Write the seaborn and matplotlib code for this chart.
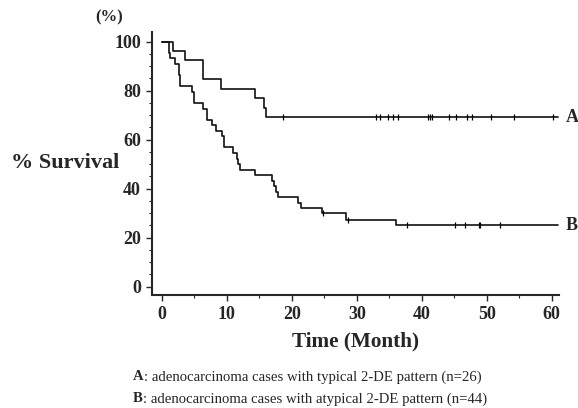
import numpy as np
import pandas as pd
import seaborn as sns
import matplotlib.pyplot as plt
from matplotlib.ticker import MultipleLocator

# step times (month) and survival levels (%)
time_a = [0, 1.75, 3.6, 6.3, 9.1, 14.3, 15.8, 16.1]
surv_a = [100, 96.2, 92.3, 84.6, 80.8, 76.9, 73.1, 69.2]
cens_a = [18.7, 32.9, 33.6, 34.8, 35.5, 36.4, 41.0, 41.2, 41.5,
          44.2, 45.2, 46.9, 47.7, 50.7, 54.2, 60.2]

time_b = [0, 1.1, 1.3, 2.0, 2.7, 2.8, 4.6, 4.9, 6.4, 6.9, 7.7, 8.4, 9.2, 9.6,
          10.9, 11.5, 11.8, 12.0, 14.4, 17.0, 17.2, 17.5, 17.9, 20.9, 21.4,
          24.6, 28.4, 36.1]
surv_b = [100, 95.5, 93.2, 90.9, 86.4, 81.8, 79.5, 75.0, 72.7, 68.2, 65.9,
          63.6, 61.4, 56.8, 54.5, 52.3, 50.0, 47.7, 45.5, 43.2, 40.9, 38.6,
          36.4, 34.1, 32.2, 29.9, 27.4, 25.0]
cens_b = [24.8, 28.7, 37.7, 45.1, 46.7, 48.8, 49.0, 52.0]

t_end = 61.0
group_labels = ["A", "B"]
caption = [("A", ": adenocarcinoma cases with typical 2-DE pattern (n=26)"),
           ("B", ": adenocarcinoma cases with atypical 2-DE pattern (n=44)")]


def level_at(times, levels, t):
    idx = np.searchsorted(times, t, side="right") - 1
    return np.asarray(levels)[idx]


sns.set_style("ticks")
plt.rcParams["font.family"] = ["Liberation Serif", "DejaVu Serif"]

rows = []
for g, tt, ss in [("A", time_a, surv_a), ("B", time_b, surv_b)]:
    for t, s in zip(tt + [t_end], ss + [ss[-1]]):
        rows.append({"group": g, "time": t, "survival": s})
df = pd.DataFrame(rows)

fig = plt.figure(figsize=(5.78, 4.08), dpi=100)
ax = fig.add_axes([0.263, 0.277, 0.704, 0.645])

sns.lineplot(data=df, x="time", y="survival", units="group", estimator=None,
             drawstyle="steps-post", color="#111111", lw=1.2, ax=ax,
             legend=False)

for tt, ss, cc in [(time_a, surv_a, cens_a), (time_b, surv_b, cens_b)]:
    ax.plot(cc, level_at(tt, ss, cc), ls="none", marker="|", ms=5,
            mew=0.9, color="black")

ax.set_xlim(-1.5, 61.1)
ax.set_ylim(-3.4, 104)
ax.set_xticks(range(0, 61, 10))
ax.set_yticks(range(0, 101, 20))
ax.xaxis.set_minor_locator(MultipleLocator(5))
ax.yaxis.set_minor_locator(MultipleLocator(5))
ax.tick_params(axis="both", which="major", length=4, width=1, pad=4,
               labelsize=13)
ax.tick_params(axis="both", which="minor", length=2.5, width=0.8)
for lab in ax.get_xticklabels() + ax.get_yticklabels():
    lab.set_fontweight("bold")
for side in ["top", "right"]:
    ax.spines[side].set_visible(False)
for side in ["left", "bottom"]:
    ax.spines[side].set_linewidth(1.5)

ax.set_xlabel("Time (Month)", fontsize=15.3, fontweight="bold", labelpad=6)
ax.set_ylabel("")
fig.text(109 / 578, 1 - 17 / 408, "(%)", fontsize=12, fontweight="bold",
         ha="center", va="center")
fig.text(65 / 578, 1 - 163 / 408, "% Survival", fontsize=16,
         fontweight="bold", ha="center", va="center")

# curve labels at the right end
for g, lv in zip(group_labels, [surv_a[-1], surv_b[-1]]):
    ax.text(t_end + 1.2, lv, g, fontsize=13, fontweight="bold",
            ha="left", va="center", clip_on=False)

for i, (key, txt) in enumerate(caption):
    y = 1 - (377 + 22 * i) / 408
    t1 = fig.text(133 / 578, y, key, fontsize=10.6, fontweight="bold",
                  ha="left", va="center")
    fig.canvas.draw()
    bb = t1.get_window_extent()
    fig.text(bb.x1 / fig.bbox.width, y, txt, fontsize=10.6, ha="left",
             va="center")

fig.savefig("out.png", dpi=100)
